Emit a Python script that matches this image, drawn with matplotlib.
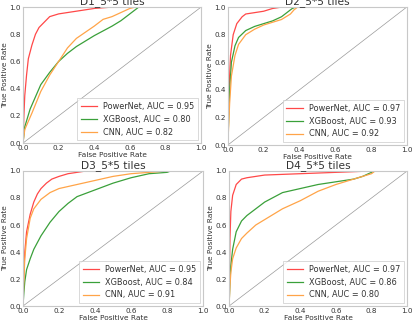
import matplotlib
matplotlib.use("Agg")
import matplotlib.pyplot as plt
import numpy as np

titles = ["D1_5*5 tiles", "D2_5*5 tiles", "D3_5*5 tiles", "D4_5*5 tiles"]
models = ["PowerNet", "XGBoost", "CNN"]
aucs = [[0.95, 0.80, 0.82], [0.97, 0.93, 0.92], [0.95, 0.84, 0.91], [0.97, 0.86, 0.80]]
colors = ["#ff4848", "#3aa03a", "#ffa448"]

# D1
d1_pn_fpr = [0, 0.005, 0.01, 0.02, 0.03, 0.05, 0.07, 0.09, 0.12, 0.15, 0.2, 0.3, 0.4, 0.5, 1.0]
d1_pn_tpr = [0, 0.2, 0.35, 0.5, 0.62, 0.72, 0.80, 0.85, 0.89, 0.93, 0.95, 0.97, 0.99, 1.0, 1.0]
d1_xg_fpr = [0, 0.01, 0.04, 0.1, 0.15, 0.2, 0.25, 0.3, 0.4, 0.5, 0.55, 0.6, 0.65, 1.0]
d1_xg_tpr = [0, 0.12, 0.25, 0.43, 0.52, 0.6, 0.66, 0.71, 0.79, 0.86, 0.9, 0.95, 1.0, 1.0]
d1_cnn_fpr = [0, 0.01, 0.05, 0.1, 0.15, 0.2, 0.25, 0.3, 0.4, 0.45, 0.5, 0.55, 0.6, 0.63, 1.0]
d1_cnn_tpr = [0, 0.1, 0.22, 0.38, 0.5, 0.6, 0.7, 0.77, 0.86, 0.91, 0.93, 0.96, 0.99, 1.0, 1.0]

# D2
d2_pn_fpr = [0, 0.005, 0.01, 0.015, 0.03, 0.05, 0.08, 0.1, 0.15, 0.2, 0.25, 0.3, 1.0]
d2_pn_tpr = [0, 0.35, 0.5, 0.65, 0.8, 0.88, 0.93, 0.95, 0.96, 0.97, 0.99, 1.0, 1.0]
d2_xg_fpr = [0, 0.005, 0.01, 0.02, 0.04, 0.06, 0.1, 0.15, 0.2, 0.25, 0.3, 0.33, 0.36, 0.38, 1.0]
d2_xg_tpr = [0, 0.2, 0.4, 0.6, 0.72, 0.78, 0.83, 0.86, 0.88, 0.9, 0.93, 0.96, 0.99, 1.0, 1.0]
d2_cnn_fpr = [0, 0.005, 0.01, 0.02, 0.04, 0.06, 0.1, 0.15, 0.2, 0.25, 0.3, 0.35, 0.37, 0.39, 1.0]
d2_cnn_tpr = [0, 0.15, 0.3, 0.5, 0.65, 0.73, 0.80, 0.84, 0.87, 0.89, 0.91, 0.95, 0.98, 1.0, 1.0]

# D3
d3_pn_fpr = [0, 0.005, 0.01, 0.02, 0.04, 0.06, 0.08, 0.1, 0.13, 0.16, 0.2, 0.25, 0.3, 0.35, 1.0]
d3_pn_tpr = [0, 0.25, 0.4, 0.55, 0.68, 0.77, 0.83, 0.87, 0.91, 0.94, 0.96, 0.98, 0.99, 1.0, 1.0]
d3_xg_fpr = [0, 0.005, 0.01, 0.02, 0.04, 0.06, 0.1, 0.15, 0.2, 0.25, 0.3, 0.4, 0.5, 0.6, 0.7, 0.8, 0.82, 1.0]
d3_xg_tpr = [0, 0.1, 0.18, 0.27, 0.35, 0.42, 0.52, 0.62, 0.7, 0.76, 0.81, 0.86, 0.91, 0.95, 0.98, 0.99, 1.0, 1.0]
d3_cnn_fpr = [0, 0.005, 0.01, 0.02, 0.04, 0.06, 0.1, 0.15, 0.2, 0.3, 0.4, 0.5, 0.6, 0.7, 0.8, 1.0]
d3_cnn_tpr = [0, 0.2, 0.35, 0.5, 0.65, 0.72, 0.79, 0.84, 0.87, 0.9, 0.93, 0.96, 0.98, 0.99, 1.0, 1.0]

# D4
d4_pn_fpr = [0, 0.005, 0.01, 0.02, 0.04, 0.07, 0.1, 0.2, 0.4, 0.6, 0.8, 1.0]
d4_pn_tpr = [0, 0.5, 0.7, 0.82, 0.9, 0.94, 0.95, 0.97, 0.98, 0.99, 1.0, 1.0]
d4_xg_fpr = [0, 0.005, 0.01, 0.02, 0.04, 0.07, 0.1, 0.15, 0.2, 0.3, 0.4, 0.5, 0.6, 0.7, 0.75, 0.8, 0.82, 1.0]
d4_xg_tpr = [0, 0.18, 0.3, 0.42, 0.55, 0.63, 0.67, 0.72, 0.77, 0.84, 0.87, 0.9, 0.92, 0.94, 0.96, 0.99, 1.0, 1.0]
d4_cnn_fpr = [0, 0.005, 0.01, 0.02, 0.04, 0.07, 0.1, 0.15, 0.2, 0.3, 0.4, 0.5, 0.6, 0.7, 0.8, 0.82, 1.0]
d4_cnn_tpr = [0, 0.15, 0.25, 0.35, 0.43, 0.5, 0.54, 0.6, 0.64, 0.72, 0.78, 0.85, 0.9, 0.94, 0.98, 1.0, 1.0]

curves = [
    [(d1_pn_fpr, d1_pn_tpr), (d1_xg_fpr, d1_xg_tpr), (d1_cnn_fpr, d1_cnn_tpr)],
    [(d2_pn_fpr, d2_pn_tpr), (d2_xg_fpr, d2_xg_tpr), (d2_cnn_fpr, d2_cnn_tpr)],
    [(d3_pn_fpr, d3_pn_tpr), (d3_xg_fpr, d3_xg_tpr), (d3_cnn_fpr, d3_cnn_tpr)],
    [(d4_pn_fpr, d4_pn_tpr), (d4_xg_fpr, d4_xg_tpr), (d4_cnn_fpr, d4_cnn_tpr)],
]

fig = plt.figure(figsize=(4.15, 3.23), dpi=100)
positions = [
    [0.0554, 0.557, 0.429, 0.421],
    [0.549, 0.551, 0.431, 0.427],
    [0.0554, 0.0526, 0.434, 0.418],
    [0.552, 0.0526, 0.429, 0.418],
]
spine_col = "#c8c8c8"
text_col = "#333333"
for i in range(4):
    ax = fig.add_axes(positions[i])
    for j in range(3):
        fpr, tpr = curves[i][j]
        ax.plot(fpr, tpr, color=colors[j], lw=0.9,
                label=f"{models[j]}, AUC = {aucs[i][j]:.2f}")
    ax.plot([0, 1], [0, 1], color="#999999", lw=0.5)
    ax.set_xlim(0, 1)
    ax.set_ylim(0, 1)
    ax.set_xticks(np.arange(0, 1.01, 0.2))
    ax.set_yticks(np.arange(0, 1.01, 0.2))
    ax.tick_params(length=0, pad=1.5, labelsize=5.2, labelcolor=text_col)
    for s in ax.spines.values():
        s.set_color(spine_col)
        s.set_linewidth(0.8)
    ax.set_xlabel("False Positive Rate", fontsize=5.3, color=text_col, labelpad=0.5)
    ax.set_ylabel("True Positive Rate", fontsize=5.3, color=text_col, labelpad=1)
    ax.set_title(titles[i], fontsize=7.7, color=text_col, pad=0.5)
    leg = ax.legend(loc="lower right", fontsize=5.9, frameon=True, fancybox=False,
                    handlelength=2.0, handletextpad=0.75, borderpad=0.45,
                    labelspacing=0.45, borderaxespad=0.35, edgecolor=spine_col)
    leg.get_frame().set_linewidth(0.6)
    for t in leg.get_texts():
        t.set_color(text_col)

fig.savefig("out.png", dpi=100)
